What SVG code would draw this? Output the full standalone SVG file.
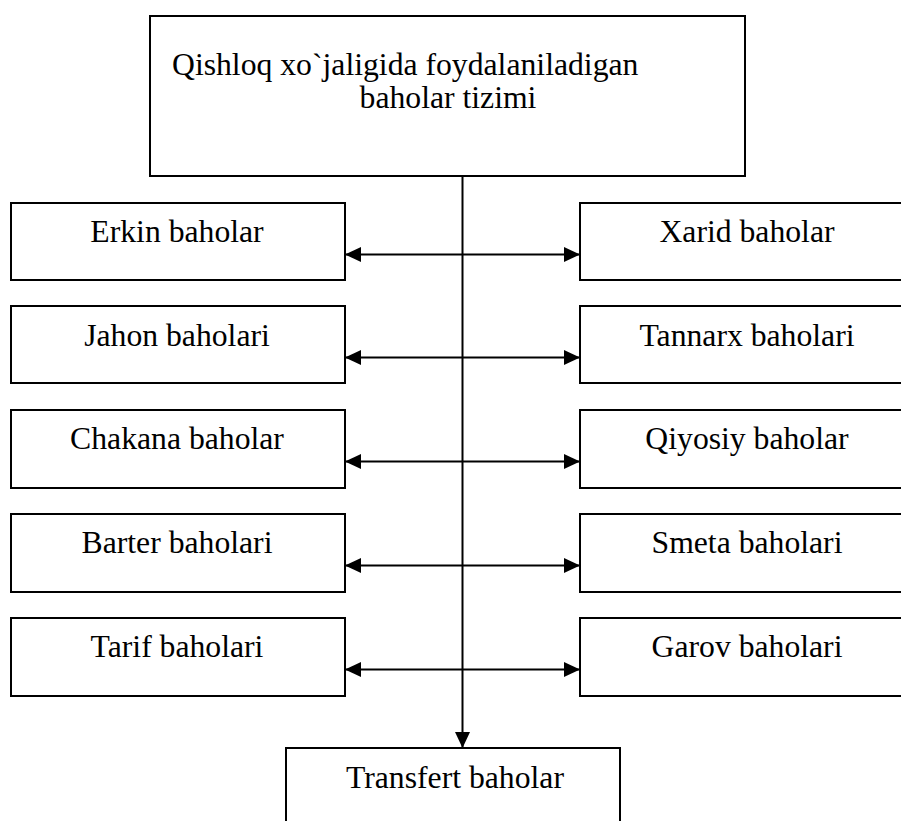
<svg xmlns="http://www.w3.org/2000/svg" width="901" height="821" viewBox="0 0 901 821">
<style>
.box{fill:#fff;stroke:#000;stroke-width:2}
.t{font-family:"Liberation Serif","Times New Roman",serif;font-size:31.7px;fill:#000}
.c{text-anchor:middle}
.ln{stroke:#000;stroke-width:2;fill:none}
</style>
<defs>
<marker id="ah" markerUnits="userSpaceOnUse" markerWidth="16" markerHeight="15" refX="16" refY="7.5" orient="auto-start-reverse">
<path d="M0,0 L16,7.5 L0,15 z" fill="#000"/>
</marker>
</defs>
<rect width="901" height="821" fill="#fff"/>
<g id="top">
<rect class="box" x="150" y="16" width="595" height="160"/>
<text class="t" x="172" y="75">Qishloq xo`jaligida foydalaniladigan</text>
<text class="t c" x="448" y="108">baholar tizimi</text>
</g>
<g id="erkin"><rect class="box" x="11" y="203" width="334" height="77"/><text class="t c" x="177" y="242">Erkin baholar</text></g>
<g id="jahon"><rect class="box" x="11" y="306" width="334" height="77"/><text class="t c" x="177" y="346">Jahon baholari</text></g>
<g id="chakana"><rect class="box" x="11" y="410" width="334" height="78"/><text class="t c" x="177" y="449">Chakana baholar</text></g>
<g id="barter"><rect class="box" x="11" y="514" width="334" height="78"/><text class="t c" x="177" y="553">Barter baholari</text></g>
<g id="tarif"><rect class="box" x="11" y="618" width="334" height="78"/><text class="t c" x="177" y="657">Tarif baholari</text></g>
<g id="xarid"><rect class="box" x="580" y="203" width="334" height="77"/><text class="t c" x="747" y="242">Xarid baholar</text></g>
<g id="tannarx"><rect class="box" x="580" y="306" width="334" height="77"/><text class="t c" x="747" y="346">Tannarx baholari</text></g>
<g id="qiyosiy"><rect class="box" x="580" y="410" width="334" height="78"/><text class="t c" x="747" y="449">Qiyosiy baholar</text></g>
<g id="smeta"><rect class="box" x="580" y="514" width="334" height="78"/><text class="t c" x="747" y="553">Smeta baholari</text></g>
<g id="garov"><rect class="box" x="580" y="618" width="334" height="78"/><text class="t c" x="747" y="657">Garov baholari</text></g>
<g id="transfert"><rect class="box" x="286" y="748" width="334" height="100"/><text class="t c" x="455" y="788">Transfert baholar</text></g>
<g id="connectors">
<line class="ln" x1="462.5" y1="176" x2="462.5" y2="748" marker-end="url(#ah)"/>
<line class="ln" x1="345" y1="254.5" x2="580" y2="254.5" marker-start="url(#ah)" marker-end="url(#ah)"/>
<line class="ln" x1="345" y1="357.5" x2="580" y2="357.5" marker-start="url(#ah)" marker-end="url(#ah)"/>
<line class="ln" x1="345" y1="461.5" x2="580" y2="461.5" marker-start="url(#ah)" marker-end="url(#ah)"/>
<line class="ln" x1="345" y1="565.5" x2="580" y2="565.5" marker-start="url(#ah)" marker-end="url(#ah)"/>
<line class="ln" x1="345" y1="669.5" x2="580" y2="669.5" marker-start="url(#ah)" marker-end="url(#ah)"/>
</g>
</svg>
